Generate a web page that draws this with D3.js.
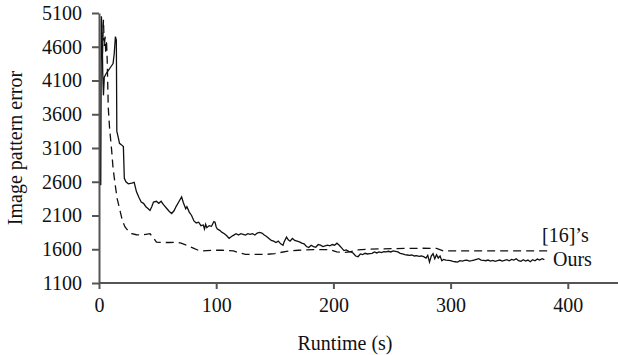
<!DOCTYPE html>
<html>
<head>
<meta charset="utf-8">
<script src="https://cdn.jsdelivr.net/npm/d3@7"></script>
<style>
  body { margin: 0; background: #fff; }
  text { font-family: "Liberation Serif", "DejaVu Serif", serif; fill: #111; }
</style>
</head>
<body>
<div id="chart"></div>
<script>
// tick labels
var xTicks = [0, 100, 200, 300, 400];
var yTicks = [1100, 1600, 2100, 2600, 3100, 3600, 4100, 4600, 5100];

// "Ours" series: runtime (s) / image pattern error
var oursTime = [1.5,2,2.6,3.2,3.8,4.5,6,8,10,12,13,14,14.8,15.2,16.5,17.5,19,20.8,21.6,23,25,28,30,32,34,36,38,40,42,43.5,45,46.5,49,51,53,55,58,60,62,64,66,68,70.5,72,74,75,77,79,81,83,85,87,89,90,91,92,94,96,98,99,100,101,103,105,107,109,111,113,115,117,119,121,123,125,127,129,131,133,135,137,139,141,143,145,147,149,151,153,155,157,158,160,161.5,163,165,167,169,171,173,175,177,179,181,183,185,187,189,191,193,195,197,199,201,203,205,207,209,211,213,215,217,219,221,223,225,227,229,231,233,235,237,239,241,243,245,247,249,251,253,255,257,259,261,263,265,267,269,271,273,275,277,279,280.5,282,283.5,285,286.5,288,289.5,291,292.5,294,296,298,300,302,304,306,308,310,312,314,316,318,320,322,324,326,328,330,332,334,336,338,340,342,344,346,348,350,352,354,356,358,360,362,364,366,368,370,372,374,376,378,380];
var oursError = [2550,5050,4900,4200,3880,4150,4200,4250,4300,4350,4500,4750,4700,3350,3250,3170,3150,3120,2650,2600,2570,2580,2590,2450,2370,2300,2280,2230,2200,2175,2230,2300,2310,2280,2310,2260,2200,2160,2130,2170,2240,2300,2375,2290,2200,2230,2150,2100,2020,1990,2000,1950,1960,1900,1970,1920,1950,1940,2010,2000,1930,1900,1880,1850,1830,1800,1760,1790,1810,1830,1810,1830,1820,1810,1830,1820,1830,1810,1840,1850,1840,1810,1790,1760,1730,1720,1700,1720,1680,1660,1710,1780,1740,1720,1760,1730,1720,1710,1690,1680,1640,1625,1660,1640,1630,1670,1660,1640,1650,1660,1650,1670,1660,1690,1660,1620,1580,1590,1570,1560,1540,1500,1490,1530,1520,1540,1530,1535,1540,1560,1545,1560,1550,1565,1560,1570,1560,1575,1570,1560,1540,1530,1520,1515,1510,1515,1500,1505,1495,1500,1490,1470,1510,1410,1500,1535,1460,1520,1470,1500,1430,1450,1440,1435,1430,1420,1415,1410,1430,1425,1435,1440,1425,1430,1440,1450,1460,1440,1435,1430,1440,1425,1435,1420,1430,1440,1425,1435,1445,1430,1450,1440,1460,1430,1420,1445,1425,1440,1415,1445,1430,1455,1440,1460,1445];

// "[16]'s" series
var refTime = [3,3.8,4.5,5.2,5.8,6.4,7,7.9,9,10.8,12,13.7,15.5,17.9,20,22.2,25,27.9,32,36,40,43.5,46,49,55,60,66,70,74.8,80,86,92,97.6,105,114.7,120,125,135,143,150,160,170,183,197,202.8,210,214,221,230,240,250,262,275,288,294,320,350,383];
var refError = [4500,5000,4600,4750,4500,4700,4400,3700,3400,3065,2800,2570,2350,2175,2020,1930,1870,1830,1815,1810,1820,1830,1780,1705,1700,1700,1705,1690,1660,1620,1575,1580,1585,1585,1575,1545,1525,1525,1525,1535,1570,1585,1595,1595,1560,1555,1560,1590,1600,1605,1610,1612,1615,1612,1575,1575,1575,1575];

var width = 618,
    height = 355;

var x0 = 99, x1 = 618, y0 = 283, y1 = 13;
var fontSize = 20;

var xScale = d3.scaleLinear().domain([0, 400]).range([x0, 567.8]);
var yScale = d3.scaleLinear().domain([1100, 5100]).range([y0, y1]);

var svg = d3.select("#chart").append("svg")
    .attr("width", width)
    .attr("height", height);

/* axes */
var xAxis = svg.append("g")
    .attr("transform", "translate(0," + y0 + ")")
    .call(d3.axisBottom(xScale).tickValues(xTicks).tickFormat(d3.format("d"))
        .tickSize(6).tickPadding(6).tickSizeOuter(0));
xAxis.select(".domain").attr("d", "M" + x0 + ",0H" + x1);

var yAxis = svg.append("g")
    .attr("transform", "translate(" + x0 + ",0)")
    .call(d3.axisLeft(yScale).tickValues(yTicks).tickFormat(d3.format("d"))
        .tickSize(7).tickPadding(10).tickSizeOuter(0));

svg.selectAll(".domain, .tick line")
    .attr("stroke", "#555")
    .attr("stroke-width", 2);
svg.selectAll(".tick text")
    .attr("font-size", fontSize)
    .style("font-family", '"Liberation Serif", serif')
    .attr("fill", "#111");
xAxis.selectAll(".tick text").attr("dy", "0.85em");

/* lines */
var line = d3.line()
    .x(d => xScale(d[0]))
    .y(d => yScale(d[1]));

var oursData = oursTime.map((t, i) => [t, oursError[i]]);
var refData = refTime.map((t, i) => [t, refError[i]]);

svg.append("path")
    .datum(refData)
    .attr("d", line)
    .attr("fill", "none")
    .attr("stroke", "#111")
    .attr("stroke-width", 1.3)
    .attr("stroke-dasharray", "8,5");

svg.append("path")
    .datum(oursData)
    .attr("d", line)
    .attr("fill", "none")
    .attr("stroke", "#111")
    .attr("stroke-width", 1.3);

/* series labels */
svg.append("text")
    .attr("x", 542).attr("y", 242)
    .attr("font-size", fontSize)
    .text("[16]\u2019s");
svg.append("text")
    .attr("x", 553).attr("y", 266)
    .attr("font-size", fontSize)
    .text("Ours");

/* axis titles */
svg.append("text")
    .attr("x", 345).attr("y", 350)
    .attr("text-anchor", "middle")
    .attr("font-size", fontSize)
    .text("Runtime (s)");
svg.append("text")
    .attr("transform", "translate(22,148) rotate(-90)")
    .attr("text-anchor", "middle")
    .attr("font-size", fontSize)
    .text("Image pattern error");
</script>
</body>
</html>
